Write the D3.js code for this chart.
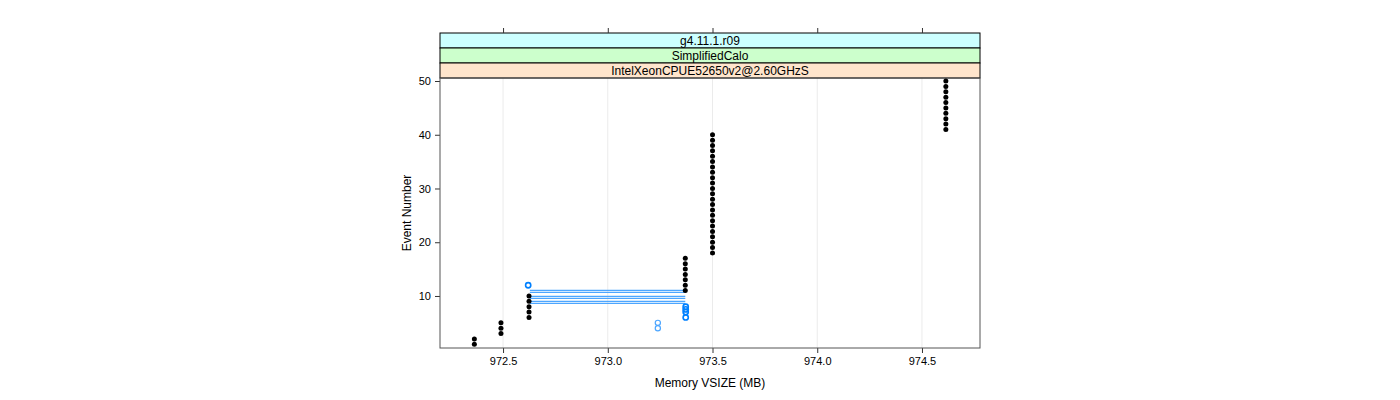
<!DOCTYPE html>
<html><head><meta charset="utf-8">
<script src="https://cdn.jsdelivr.net/npm/d3@7"></script>
<style>body{margin:0;background:#fff;} text{font-family:"Liberation Sans",Arial,sans-serif;}</style>
</head><body>
<svg id="c" width="1400" height="400"></svg>
<script>
// ---- data ----
const stripLabels = ["g4.11.1.r09", "SimplifiedCalo", "IntelXeonCPUE52650v2@2.60GHzS"];
const stripColors = ["#ccffff", "#ccffcc", "#ffe5cc"];
const xTicks = [972.5, 973.0, 973.5, 974.0, 974.5];
const yTicks = [10, 20, 30, 40, 50];
// black points: memory per event
const blackMem =    [972.363,972.363, 972.49,972.49,972.49, 972.624,972.624,972.624,972.624,972.624,
  973.37,973.37,973.37,973.37,973.37,973.37,973.37,
  973.5,973.5,973.5,973.5,973.5,973.5,973.5,973.5,973.5,973.5,973.5,973.5,973.5,973.5,973.5,973.5,973.5,973.5,973.5,973.5,973.5,973.5,973.5,
  974.614,974.614,974.614,974.614,974.614,974.614,974.614,974.614,974.614,974.614];
const blackEvent = d3.range(1, 51);
// blue open circles
const blueMem =   [972.62, 973.372, 973.372, 973.372, 973.372];
const blueEvent = [12, 8, 7.5, 7, 6];
// light blue open circles
const lightMem =   [973.239, 973.239];
const lightEvent = [4, 5];
// blue horizontal connecting lines
const lineFrom =  [972.628, 972.628, 972.628, 972.628, 972.628, 972.628];
const lineTo =    [973.37, 973.37, 973.37, 973.37, 973.37, 973.37];
const lineEvent = [11.05, 10.68, 9.93, 9.55, 8.99, 8.61];

// ---- layout ----
const L = 440, R = 980, T = 78, B = 348, stripH = 15;
const svg = d3.select("#c");
const x = d3.scaleLinear().domain([972.199, 974.777]).range([L, R]);
const y = d3.scaleLinear().domain([0.32, 50.56]).range([B, T]);

// grid
svg.append("g").selectAll("line").data(xTicks).join("line")
  .attr("x1", d => x(d)).attr("x2", d => x(d)).attr("y1", T).attr("y2", B)
  .attr("stroke", "#ebebeb").attr("stroke-width", 1);

// strips
stripLabels.forEach((s, i) => {
  const y0 = T - stripH * (3 - i);
  svg.append("rect").attr("x", L).attr("y", y0).attr("width", R - L).attr("height", stripH)
    .attr("fill", stripColors[i]).attr("stroke", "#000").attr("stroke-width", 1);
  svg.append("text").attr("x", (L + R) / 2).attr("y", y0 + 11.5).attr("text-anchor", "middle")
    .attr("font-size", 12).text(s);
});

// axes
const ax = svg.append("g").attr("transform", `translate(0,${B})`)
  .call(d3.axisBottom(x).tickValues(xTicks).tickFormat(d3.format(".1f")).tickSizeOuter(0).tickSize(5).tickPadding(4));
const axTop = svg.append("g").attr("transform", `translate(0,${T - 3 * stripH})`)
  .call(d3.axisTop(x).tickValues(xTicks).tickFormat("").tickSizeOuter(0).tickSize(5));
const ay = svg.append("g").attr("transform", `translate(${L},0)`)
  .call(d3.axisLeft(y).tickValues(yTicks).tickSizeOuter(0).tickSize(5).tickPadding(4));
[ax, axTop, ay].forEach(g => {
  g.select(".domain").remove();
  g.selectAll("line").attr("stroke", "#333");
  g.selectAll("text").attr("font-size", 11).attr("fill", "#000").attr("font-family", '"Liberation Sans",Arial,sans-serif');
});

// panel border
svg.append("rect").attr("x", L).attr("y", T).attr("width", R - L).attr("height", B - T)
  .attr("fill", "none").attr("stroke", "#555").attr("stroke-width", 1);

// blue lines
svg.append("g").selectAll("line").data(lineEvent).join("line")
  .attr("x1", (d, i) => x(lineFrom[i])).attr("x2", (d, i) => x(lineTo[i]))
  .attr("y1", d => y(d)).attr("y2", d => y(d))
  .attr("stroke", "#4da6ff").attr("stroke-width", 1.2);

// black points
svg.append("g").selectAll("circle").data(blackEvent).join("circle")
  .attr("cx", (d, i) => x(blackMem[i])).attr("cy", d => y(d)).attr("r", 2.5).attr("fill", "#000");

// blue open circles
svg.append("g").selectAll("circle").data(blueEvent).join("circle")
  .attr("cx", (d, i) => x(blueMem[i])).attr("cy", d => y(d)).attr("r", 2.6)
  .attr("fill", "none").attr("stroke", "#0080ff").attr("stroke-width", 1.6);
svg.append("g").selectAll("circle").data(lightEvent).join("circle")
  .attr("cx", (d, i) => x(lightMem[i])).attr("cy", d => y(d)).attr("r", 2.6)
  .attr("fill", "none").attr("stroke", "#4da6ff").attr("stroke-width", 1.2);

// titles
svg.append("text").attr("x", (L + R) / 2).attr("y", 387).attr("text-anchor", "middle")
  .attr("font-size", 12).text("Memory VSIZE (MB)");
svg.append("text").attr("transform", `translate(411,${(T + B) / 2}) rotate(-90)`)
  .attr("text-anchor", "middle").attr("font-size", 12).text("Event Number");
</script>
</body></html>
